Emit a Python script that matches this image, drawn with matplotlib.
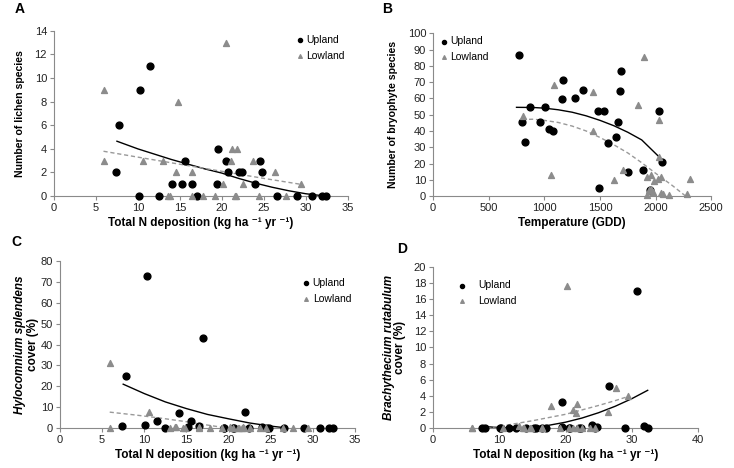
import matplotlib
matplotlib.use("Agg")
import matplotlib.pyplot as plt

plt.rcParams['font.family'] = ['Liberation Sans', 'DejaVu Sans']

UP_COLOR = "black"
LOW_COLOR = "#8c8c8c"
AXIS_COLOR = "#8a8a8a"

# site N deposition (kg/ha/yr)
n_up = [7.4, 7.8, 10.1, 10.3, 11.5, 12.5, 14.1, 15.2, 15.6, 16.5, 17.0, 19.4, 19.5,
        20.5, 20.7, 22.0, 22.4, 24.0, 24.5, 24.8, 26.6, 29.0, 30.8, 31.9, 32.4]
n_low = [5.9, 5.9, 10.6, 13.0, 13.6, 13.8, 14.6, 14.8, 16.5, 16.5, 17.8, 19.2, 20.2,
         20.5, 21.1, 21.2, 21.6, 21.7, 21.8, 22.5, 23.7, 24.4, 26.4, 27.6, 29.4]

# A: lichen species
lichen_up = [2, 6, 0, 9, 11, 0, 1, 1, 3, 1, 0, 1, 4, 3, 2, 2, 2, 1, 3, 2, 0, 0, 0, 0, 0]
lichen_low = [9, 3, 3, 3, 0, 0, 2, 8, 2, 0, 0, 0, 1, 13, 3, 4, 0, 0, 4, 1, 3, 0, 2, 0, 1]
trend_a_up_x = [7.5, 10, 12, 14, 16, 18, 20, 22, 24, 26, 28, 30, 31.8]
trend_a_up_y = [4.65, 4.0, 3.55, 3.1, 2.7, 2.3, 1.95, 1.5, 1.1, 0.75, 0.45, 0.2, 0.05]
trend_a_low_x = [5.9, 10, 15, 20, 25, 29.4]
trend_a_low_y = [3.8, 3.3, 2.7, 2.1, 1.5, 1.0]

# B: bryophyte species vs GDD
gdd_up = [770, 800, 830, 870, 960, 1010, 1040, 1080, 1160, 1170, 1280, 1350, 1480,
          1540, 1570, 1640, 1660, 1680, 1690, 1490, 1750, 1890, 1950, 2030, 2060]
bryo_up = [86.5, 45.5, 33.5, 54.5, 45.5, 54.5, 41, 40, 59.5, 71, 60.5, 65, 52.5,
           52.5, 32.5, 36, 45.5, 64.5, 77, 5, 14.5, 16, 4, 52, 21]
gdd_low = [810, 1060, 1090, 1440, 1440, 1630, 1710, 1840, 1900, 1920, 1920, 1940, 1960,
           1960, 1980, 1990, 2020, 2030, 2030, 2050, 2050, 2070, 2120, 2280, 2310]
bryo_low = [49, 13, 68.5, 64, 40, 10, 16, 56, 85.5, 0.5, 12, 4, 4.5,
            13, 2.5, 9.5, 10.5, 47, 24, 12, 2, 1, 0.5, 1, 10.5]
trend_b_up_x = [750, 900, 1000, 1125, 1250, 1375, 1500, 1625, 1750, 1875, 2040]
trend_b_up_y = [54.5, 54.4, 54.0, 53.0, 51.5, 49.3, 46.5, 43.2, 39.2, 34.5, 23.5]
trend_b_low_x = [800, 900, 1000, 1125, 1250, 1375, 1500, 1625, 1750, 1875, 2000, 2150, 2270]
trend_b_low_y = [47, 47.2, 46.5, 45.2, 43, 40, 36, 31.5, 26.5, 20.5, 14, 6.5, 0]

# C: Hylocomnium splendens cover
hylo_up = [0.8, 25, 1.3, 73, 3.5, 0, 7, 0.7, 3.4, 0.8, 43, 0, 0, 0.2, 0, 7.5, 0,
           0.4, 0, 0, 0, 0.2, 0, 0, 0]
hylo_low = [31, 0, 7.5, 0, 0.3, 0.5, 0, 0, 0.5, 0, 0, 0, 0.3, 0, 0.2, 0, 0, 0.3,
            0, 0, 0, 0.2, 0, 0, 0]
trend_c_up_x = [7.5, 10, 12.5, 15, 17.5, 20, 22.5, 25, 26.5]
trend_c_up_y = [21, 16.5, 12.5, 9.3, 6.5, 4.4, 2.4, 0.9, 0.2]
trend_c_low_x = [5.9, 9, 12, 15, 17.5, 19.8]
trend_c_low_y = [7.6, 6.2, 4.7, 3.0, 1.4, 0]

# D: Brachythecium rutabulum cover
brachy_up = [0, 0, 0, 0, 0, 0, 0, 0, 0, 0, 0, 3.2, 0.1, 0, 0, 0, 0, 0.4, 0, 0.15,
             5.2, 0, 17, 0.3, 0.05]
brachy_low = [0, 0, 0, 0.2, 0, 0, 0, 0, 0, 0, 2.7, 0, 17.6, 0, 2.2, 0, 1.8, 3.0, 0,
              0, 0, 0, 2.0, 5.0, 4.0]
trend_d_up_x = [7.4, 10, 12, 15, 17.5, 20, 22.5, 25, 27.5, 30, 32.4]
trend_d_up_y = [0.2, 0.05, 0, 0.1, 0.34, 0.72, 1.24, 1.9, 2.7, 3.64, 4.68]
trend_d_low_x = [8, 10, 12.5, 15, 17.5, 20, 22.5, 25, 27.5, 29.4]
trend_d_low_y = [0.0, 0.2, 0.55, 0.9, 1.3, 1.7, 2.25, 2.8, 3.4, 3.9]


def style_axes(ax, xlim, xticks, ylim, yticks):
    ax.set_xlim(*xlim)
    ax.set_ylim(*ylim)
    ax.set_xticks(xticks)
    ax.set_yticks(yticks)
    for s in ["top", "right"]:
        ax.spines[s].set_visible(False)
    for s in ["left", "bottom"]:
        ax.spines[s].set_color(AXIS_COLOR)
        ax.spines[s].set_linewidth(0.8)
    ax.tick_params(direction="out", length=3, width=0.8, color=AXIS_COLOR,
                   labelsize=8, labelcolor="#222222", pad=2)


def draw(ax, xu, yu, xl, yl, tux, tuy, tlx, tly):
    ax.scatter(xu, yu, s=24, c=UP_COLOR, marker="o", zorder=3, clip_on=False, label="Upland")
    ax.scatter(xl, yl, s=18, c=LOW_COLOR, marker="^", zorder=3, clip_on=False, label="Lowland")
    ax.plot(tux, tuy, color="black", lw=1.0, zorder=2)
    ax.plot(tlx, tly, color="#999999", lw=1.0, ls=(0, (3, 2)), zorder=2)


def legend(ax, anchor, pad=0.1):
    ax.legend(loc="upper left", bbox_to_anchor=anchor, frameon=False, fontsize=7.5,
              handletextpad=pad, handlelength=1.0, labelspacing=0.55, borderpad=0,
              markerscale=0.6)


fig = plt.figure(figsize=(7.34, 4.68), dpi=100)
xlab = "Total N deposition (kg ha \u207b\u00b9 yr \u207b\u00b9)"
lab_kw = dict(fontsize=8.5, fontweight="bold")
ylab_kw = dict(fontsize=7.6, fontweight="bold")

# A
ax = fig.add_axes([0.0736, 0.581, 0.400, 0.353])
draw(ax, n_up, lichen_up, n_low, lichen_low, trend_a_up_x, trend_a_up_y, trend_a_low_x, trend_a_low_y)
style_axes(ax, (0, 35), range(0, 36, 5), (0, 14), range(0, 15, 2))
ax.set_xlabel(xlab, labelpad=3, **lab_kw)
ax.set_ylabel("Number of lichen species", labelpad=7, **ylab_kw)
legend(ax, (0.803, 1.008))
fig.text(0.020, 0.995, "A", fontsize=10, fontweight="bold", va="top")

# B
ax = fig.add_axes([0.590, 0.581, 0.379, 0.348])
draw(ax, gdd_up, bryo_up, gdd_low, bryo_low, trend_b_up_x, trend_b_up_y, trend_b_low_x, trend_b_low_y)
style_axes(ax, (0, 2500), range(0, 2501, 500), (0, 100), range(0, 101, 10))
ax.set_xlabel("Temperature (GDD)", labelpad=3, **lab_kw)
ax.set_ylabel("Number of bryophyte species", labelpad=7, **ylab_kw)
legend(ax, (0.002, 1.013))
fig.text(0.520, 0.995, "B", fontsize=10, fontweight="bold", va="top")

# C
ax = fig.add_axes([0.0817, 0.0855, 0.402, 0.3565])
draw(ax, n_up, hylo_up, n_low, hylo_low, trend_c_up_x, trend_c_up_y, trend_c_low_x, trend_c_low_y)
style_axes(ax, (0, 35), range(0, 36, 5), (0, 80), range(0, 81, 10))
ax.set_xlabel(xlab, labelpad=3, **lab_kw)
ax.text(-0.137, 0.5, "Hylocomnium splendens", transform=ax.transAxes, rotation=90,
        ha="center", va="center", fontstyle="italic", **lab_kw)
ax.text(-0.09, 0.5, "cover (%)", transform=ax.transAxes, rotation=90,
        ha="center", va="center", **lab_kw)
legend(ax, (0.8, 0.93))
fig.text(0.016, 0.497, "C", fontsize=10, fontweight="bold", va="top")

# D
ax = fig.add_axes([0.590, 0.0855, 0.361, 0.344])
draw(ax, n_up, brachy_up, n_low, brachy_low, trend_d_up_x, trend_d_up_y, trend_d_low_x, trend_d_low_y)
style_axes(ax, (0, 40), range(0, 41, 10), (0, 20), range(0, 21, 2))
ax.set_xlabel(xlab, labelpad=3, **lab_kw)
ax.text(-0.165, 0.5, "Brachythecium rutabulum", transform=ax.transAxes, rotation=90,
        ha="center", va="center", fontstyle="italic", **lab_kw)
ax.text(-0.123, 0.5, "cover (%)", transform=ax.transAxes, rotation=90,
        ha="center", va="center", **lab_kw)
legend(ax, (0.071, 0.95), pad=1.0)
fig.text(0.541, 0.483, "D", fontsize=10, fontweight="bold", va="top")

fig.savefig("out.png", dpi=100)
